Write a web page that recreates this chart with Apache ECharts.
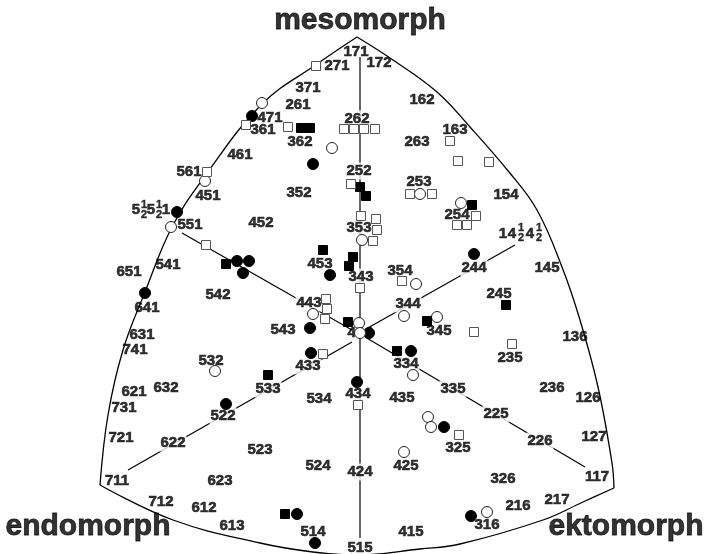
<!DOCTYPE html>
<html>
<head>
<meta charset="utf-8">
<script src="https://cdn.jsdelivr.net/npm/echarts@6/dist/echarts.min.js"></script>
<style>
  html, body { margin: 0; padding: 0; background: #fff; }
  #main { width: 705px; height: 554px; }
</style>
</head>
<body>
<div id="main"></div>
<script>
// chart plane coordinates (x to the right, y downward)

// outline of the somatochart
var leftArc = [[357, 37], [317, 64], [262, 104], [205, 176], [172, 227], [145, 292], [123, 350], [108, 415], [100, 485]];
var rightArc = [[357, 37], [393, 60], [437, 92], [470, 127], [509, 172], [537, 210], [562, 267], [580, 320], [598, 387], [612, 463], [614, 488]];
var bottomArc = [[100, 485], [173, 520], [260, 543], [313, 552], [357, 555], [420, 549], [460, 544], [543, 520], [583, 502], [614, 488]];

// the five axis lines through 444
var axisLines = [
  [[360, 57], [360, 538]],
  [[352, 342], [128, 470]],
  [[365, 337], [585, 467]],
  [[352, 330], [182, 233]],
  [[366, 329], [515, 245]]
];

// somatotype labels that sit on an axis line (line is broken behind them)
var axisTypes = [
  [357, 119, "262"], [359, 171, "252"], [359, 228, "353"], [361, 277, "343"],
  [358, 394, "434"], [360, 472, "424"], [173, 443, "622"], [223, 416, "522"],
  [268, 389, "533"], [308, 366, "433"], [309, 303, "443"], [406, 364, "334"],
  [453, 389, "335"], [496, 414, "225"], [540, 441, "226"], [408, 304, "344"],
  [474, 268, "244"]
];

// all other somatotype labels
var areaTypes = [
  [356, 52, "171"], [379, 63, "172"], [337, 66, "271"], [308, 88, "371"],
  [298, 105, "261"], [270, 118, "471"], [263, 130, "361"], [300, 142, "362"],
  [240, 155, "461"], [189, 172, "561"], [422, 100, "162"], [455, 130, "163"],
  [417, 142, "263"], [299, 193, "352"], [208, 196, "451"], [190, 225, "551"],
  [261, 223, "452"], [168, 265, "541"], [129, 272, "651"], [218, 295, "542"],
  [147, 308, "641"], [320, 264, "453"], [283, 330, "543"], [142, 335, "631"],
  [135, 350, "741"], [419, 182, "253"], [506, 195, "154"], [457, 215, "254"],
  [400, 271, "354"], [547, 268, "145"], [499, 294, "245"], [439, 331, "345"],
  [575, 337, "136"], [360, 333, "444"], [211, 361, "532"], [319, 399, "534"],
  [166, 388, "632"], [134, 392, "621"], [124, 408, "731"], [121, 438, "721"],
  [260, 450, "523"], [318, 466, "524"], [117, 481, "711"], [220, 481, "623"],
  [161, 502, "712"], [204, 508, "612"], [232, 526, "613"], [313, 532, "514"],
  [360, 548, "515"], [411, 532, "415"], [402, 398, "435"], [510, 358, "235"],
  [552, 388, "236"], [588, 398, "126"], [594, 437, "127"], [458, 448, "325"],
  [406, 466, "425"], [597, 477, "117"], [503, 479, "326"], [518, 506, "216"],
  [557, 500, "217"], [487, 525, "316"],
  // 5½5½1 and 14½4½ digits
  [136, 210, "5"], [151, 210, "5"], [166, 210, "1"],
  [503, 234, "1"], [512, 234, "4"], [530, 234, "4"]
];

// stacked ½ fractions
var halves = [[144, 210], [159, 210], [521, 233], [539, 233]];

var mainTitles = [[360, 21, "mesomorph"], [88, 527, "endomorph"], [626, 527, "ektomorph"]];

// individual somatotypes
var filledCircles = [
  [252, 116], [313, 164], [177, 212], [237, 261], [249, 261], [243, 273], [330, 275],
  [145, 293], [474, 254], [310, 328], [369, 333], [311, 353], [411, 351], [226, 404],
  [357, 382], [444, 427], [297, 514], [315, 543], [471, 516]
];
var openCircles = [
  [262, 103], [332, 148], [205, 181], [171, 227], [420, 194], [461, 203], [362, 240],
  [416, 284], [313, 314], [359, 323], [360, 333], [404, 316], [437, 317], [413, 375],
  [215, 371], [428, 417], [431, 427], [404, 452], [487, 512]
];
var filledSquares = [
  [301, 128], [310, 128], [360, 187], [366, 196], [472, 205], [323, 250], [353, 257],
  [349, 266], [226, 264], [348, 322], [427, 321], [506, 305], [397, 351], [268, 375],
  [285, 514]
];
var openSquares = [
  [316, 66], [246, 125], [288, 127], [344, 129], [354, 129], [364, 129], [375, 129],
  [450, 141], [458, 161], [489, 162], [207, 172], [351, 184], [410, 194], [432, 194],
  [476, 216], [457, 225], [467, 225], [361, 216], [376, 219], [377, 230], [373, 241],
  [206, 245], [402, 281], [360, 288], [326, 299], [327, 309], [325, 319], [474, 332],
  [512, 344], [323, 354], [358, 405], [459, 435]
];

var FONT = "Liberation Sans, Arial, sans-serif";

function textSeries(rows, label) {
  return {
    type: "scatter",
    z: 3,
    symbolSize: 1,
    itemStyle: { color: "rgba(0,0,0,0)" },
    label: Object.assign({ show: true, position: "inside", formatter: function (p) { return p.name; } }, label),
    data: rows.map(function (r) { return { name: r[2], value: [r[0], r[1]] }; })
  };
}

function markSeries(pts, symbol, size, fill, stroke) {
  return {
    type: "scatter",
    z: 5,
    symbol: symbol,
    symbolSize: size,
    itemStyle: { color: fill, borderColor: stroke, borderWidth: 1, opacity: 1 },
    data: pts
  };
}

var series = [];
[leftArc, rightArc, bottomArc].forEach(function (arc) {
  series.push({
    type: "line", z: 1, data: arc, smooth: 0.4, symbol: "none",
    lineStyle: { color: "#000", width: 1.3 }
  });
});
axisLines.forEach(function (seg) {
  series.push({
    type: "line", z: 1, data: seg, symbol: "none",
    lineStyle: { color: "#000", width: 1.2 }
  });
});

var numStyle = {
  color: "#000", fontFamily: FONT, fontWeight: "bold", fontSize: 15,
  textBorderColor: "#000", textBorderWidth: 0.6
};
series.push(textSeries(axisTypes, Object.assign({ backgroundColor: "#fff", padding: [1, 1] }, numStyle)));
series.push(textSeries(areaTypes, numStyle));
series.push(textSeries(halves.map(function (h) { return [h[0], h[1], "1\n2"]; }),
  { color: "#000", fontFamily: FONT, fontWeight: "bold", fontSize: 11, lineHeight: 10,
    textBorderColor: "#000", textBorderWidth: 0.4 }));
series.push(textSeries(mainTitles, {
  color: "#000", fontFamily: FONT, fontWeight: "bold", fontSize: 30,
  textBorderColor: "#000", textBorderWidth: 0.8
}));

series.push(markSeries(filledCircles, "circle", 11, "#000", "#000"));
series.push(markSeries(openCircles, "circle", 11, "#fff", "#222"));
series.push(markSeries(filledSquares, "rect", 9, "#000", "#000"));
series.push(markSeries(openSquares, "rect", 9, "#fff", "#555"));

var myChart = echarts.init(document.getElementById("main"));
myChart.setOption({
  animation: false,
  backgroundColor: "#fff",
  grid: { left: 0, right: 0, top: 0, bottom: 0 },
  xAxis: { type: "value", min: 0, max: 705, show: false },
  yAxis: { type: "value", min: 0, max: 554, inverse: true, show: false },
  series: series
});
</script>
</body>
</html>
